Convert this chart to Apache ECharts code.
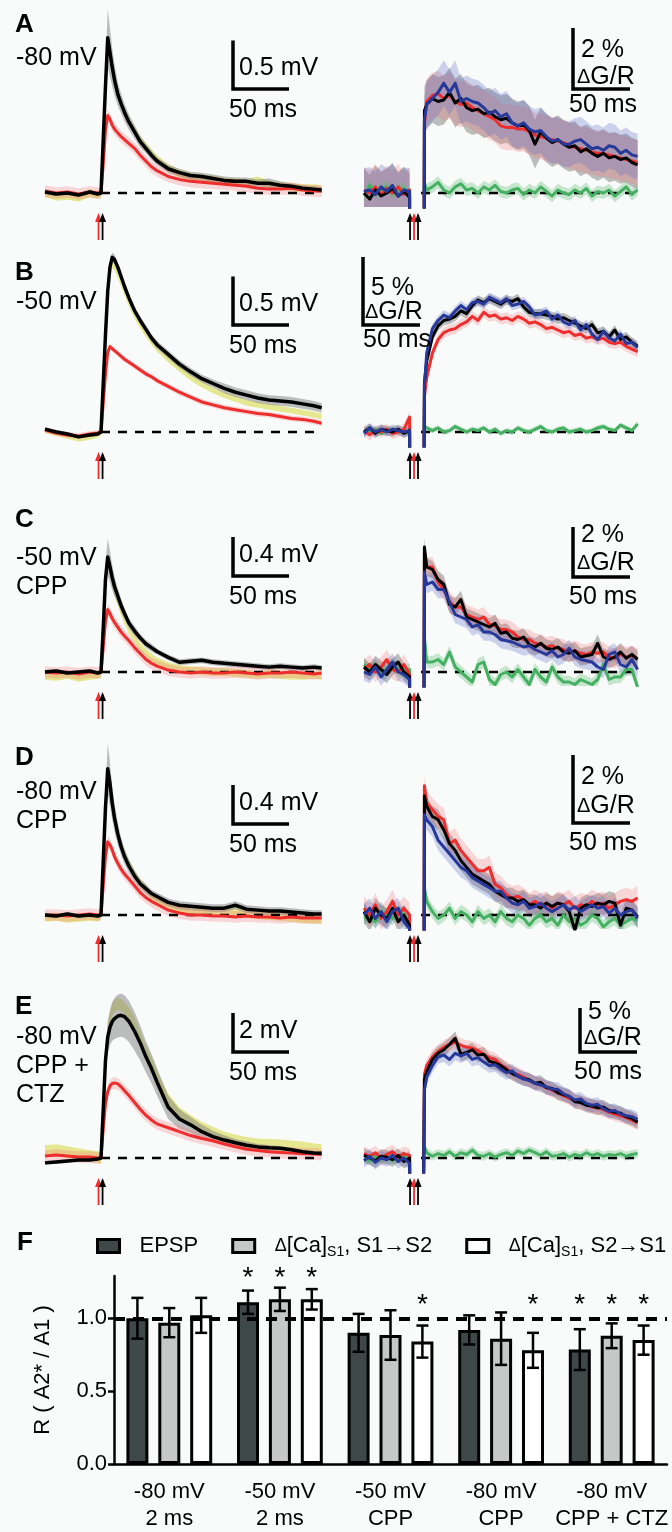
<!DOCTYPE html>
<html>
<head>
<meta charset="utf-8"/>
<title>EPSP and dendritic Ca transients</title>
<script src="https://cdn.jsdelivr.net/npm/echarts@6/dist/echarts.min.js"></script>
<style>html,body{margin:0;padding:0;background:#f9fbfb}#main{width:672px;height:1532px}</style>
</head>
<body>
<div id="main"></div>
<script>
var FONT = '"Liberation Sans", Arial, sans-serif';

// ---- time bases (ms from stimulus) ----
var tL = [-50,-40,-30,-20,-10,-3,0,2,4,6,8,10,12,15,18,21,25,30,35,40,45,50,60,70,80,90,100,110,120,130,140,150,160,170,180,190,197];
var tPre = [-50,-45,-40,-35,-30,-25,-20,-15,-10];
var tPost = [3,5,10,15,20,25,30,35,40,45,50,55,60,65,70,75,80,85,90,95,100,105,110,115,120,125,130,135,140,145,150,155,160,165,170,175,180,185,190];

// ---- EPSP traces (mV) ----
var epspBlackA = [0.01,-0.01,0.0,-0.02,0.01,-0.01,0.0, 0.55,1.1,1.6,1.45,1.3,1.17,1.02,0.92,0.83,0.73, 0.63,0.53,0.46,0.39,0.33,0.25,0.21,0.18,0.17,0.15, 0.13,0.12,0.12,0.1,0.1,0.08,0.07,0.05,0.04,0.03];
var epspRedA = [0.02,0.0,0.01,-0.01,0.01,0.0,0.0, 0.3,0.65,0.8,0.76,0.7,0.66,0.62,0.58,0.55,0.51, 0.46,0.39,0.33,0.27,0.23,0.17,0.14,0.12,0.11,0.1, 0.09,0.08,0.07,0.05,0.04,0.04,0.05,0.03,0.02,0.02];
var epspYellowA = [0.0,-0.04,-0.03,-0.05,0.0,-0.02,0.0, 0.5,1.0,1.5,1.42,1.28,1.15,1.02,0.92,0.84,0.74, 0.64,0.55,0.48,0.41,0.35,0.26,0.2,0.17,0.15,0.14, 0.12,0.11,0.1,0.13,0.09,0.07,0.06,0.05,0.05,0.04];
var semGrayA = [0.02,0.02,0.02,0.02,0.02,0.02,0.02, 0.08,0.18,0.3,0.25,0.2,0.16,0.12,0.1,0.09,0.08, 0.07,0.06,0.05,0.05,0.04,0.04,0.04,0.04,0.04,0.04, 0.04,0.04,0.04,0.04,0.05,0.04,0.03,0.03,0.03,0.03];

var epspBlackB = [0.03,0.0,-0.02,-0.05,-0.03,-0.02,0.0, 0.5,1.0,1.45,1.7,1.8,1.78,1.7,1.6,1.5,1.38, 1.25,1.15,1.06,0.97,0.9,0.8,0.7,0.62,0.55,0.5, 0.45,0.41,0.38,0.35,0.33,0.32,0.31,0.29,0.27,0.25];
var epspRedB = [0.02,-0.01,-0.03,-0.04,-0.02,-0.01,0.0, 0.3,0.6,0.82,0.88,0.86,0.84,0.81,0.78,0.75,0.72, 0.68,0.64,0.6,0.57,0.53,0.47,0.41,0.36,0.31,0.28, 0.25,0.23,0.21,0.19,0.18,0.16,0.14,0.13,0.11,0.09];
var epspYellowB = [0.02,-0.01,-0.04,-0.07,-0.05,-0.03,0.0, 0.48,0.97,1.4,1.64,1.72,1.7,1.62,1.53,1.44,1.32, 1.2,1.1,1.01,0.93,0.86,0.75,0.65,0.56,0.49,0.43, 0.38,0.34,0.3,0.28,0.26,0.24,0.22,0.2,0.18,0.16];
var semGrayB = [0.02,0.02,0.02,0.02,0.02,0.02,0.02, 0.03,0.04,0.05,0.05,0.05,0.05,0.04,0.04,0.04,0.04, 0.04,0.04,0.04,0.04,0.04,0.04,0.04,0.04,0.04,0.04, 0.05,0.05,0.05,0.05,0.05,0.05,0.05,0.05,0.05,0.05];

var epspBlackC = [0.0,0.01,-0.01,0.0,0.01,-0.01,0.0, 0.45,0.95,1.18,1.08,0.97,0.88,0.78,0.68,0.6,0.5, 0.42,0.35,0.29,0.25,0.21,0.15,0.1,0.11,0.12,0.1, 0.09,0.08,0.07,0.06,0.05,0.06,0.05,0.04,0.05,0.04];
var epspRedC = [0.0,-0.01,0.0,-0.02,0.0,-0.01,0.0, 0.25,0.52,0.64,0.6,0.55,0.51,0.46,0.41,0.37,0.32, 0.25,0.19,0.13,0.09,0.06,0.02,0.0,-0.01,0.0,-0.01, -0.01,0.0,-0.01,-0.02,-0.01,-0.01,0.0,-0.01,-0.02,-0.01];
var epspYellowC = [-0.04,-0.05,-0.03,-0.06,-0.04,-0.03,-0.02, 0.4,0.9,1.12,1.03,0.92,0.82,0.72,0.62,0.53,0.43, 0.34,0.26,0.2,0.15,0.11,0.06,0.03,0.02,0.01,0.0, 0.0,-0.01,-0.02,-0.03,-0.02,-0.03,-0.04,-0.04,-0.03,-0.04];
var semGrayC = [0.02,0.02,0.02,0.02,0.02,0.02,0.02, 0.08,0.15,0.19,0.16,0.13,0.1,0.08,0.07,0.06,0.05, 0.05,0.04,0.04,0.04,0.03,0.03,0.03,0.03,0.03,0.03, 0.03,0.03,0.03,0.03,0.03,0.03,0.03,0.03,0.03,0.03];

var epspBlackD = [0.0,-0.01,0.01,-0.01,0.0,-0.01,0.0, 0.55,1.1,1.5,1.35,1.15,1.0,0.83,0.7,0.6,0.5, 0.4,0.32,0.27,0.22,0.19,0.13,0.1,0.09,0.08,0.07, 0.07,0.1,0.06,0.05,0.04,0.04,0.03,0.02,0.01,0.01];
var epspRedD = [0.0,0.0,-0.01,0.0,0.01,0.0,0.0, 0.3,0.6,0.75,0.72,0.67,0.6,0.53,0.47,0.42,0.37, 0.3,0.23,0.18,0.14,0.11,0.05,0.02,0.0,0.0,-0.01, -0.01,-0.02,-0.01,-0.02,-0.02,-0.03,-0.02,-0.03,-0.03,-0.03];
var epspYellowD = [-0.03,-0.02,-0.04,-0.03,-0.02,-0.03,0.0, 0.5,1.05,1.45,1.33,1.15,1.0,0.85,0.72,0.62,0.52, 0.42,0.33,0.27,0.2,0.16,0.1,0.06,0.05,0.04,0.03, 0.02,0.03,0.01,0.0,-0.01,-0.02,-0.03,-0.04,-0.05,-0.05];
var semGrayD = [0.02,0.02,0.02,0.02,0.02,0.02,0.02, 0.08,0.17,0.26,0.22,0.17,0.14,0.11,0.09,0.08,0.07, 0.06,0.05,0.05,0.04,0.04,0.04,0.04,0.04,0.04,0.04, 0.04,0.04,0.04,0.04,0.04,0.04,0.04,0.04,0.04,0.04];

var epspBlackE = [-0.25,-0.2,-0.15,-0.1,-0.1,-0.05,0.0, 2.5,5.0,6.2,6.7,7.0,7.15,7.28,7.32,7.25,7.0, 6.5,5.9,5.2,4.6,3.9,2.6,2.0,1.7,1.35,1.1, 0.92,0.78,0.65,0.57,0.52,0.5,0.42,0.32,0.26,0.24];
var epspRedE = [0.1,0.15,0.1,0.05,0.05,0.0,0.0, 1.5,2.8,3.4,3.7,3.82,3.85,3.8,3.65,3.45,3.2, 2.85,2.5,2.2,1.95,1.75,1.55,1.35,1.15,1.0,0.88, 0.72,0.58,0.45,0.38,0.32,0.28,0.25,0.22,0.2,0.18];
var epspYellowE = [0.35,0.4,0.3,0.2,0.1,0.05,0.0, 2.6,5.3,6.6,7.2,7.6,7.8,7.9,7.85,7.7,7.4, 6.9,6.2,5.5,4.9,4.2,3.0,2.3,1.9,1.55,1.3, 1.05,0.9,0.78,0.7,0.68,0.65,0.6,0.55,0.45,0.4];
var semGrayE = [0.1,0.1,0.1,0.08,0.06,0.04,0.03, 0.3,0.6,0.8,0.9,1.0,1.05,1.1,1.1,1.1,1.05, 1.0,0.9,0.8,0.75,0.7,0.6,0.5,0.4,0.35,0.3, 0.25,0.2,0.2,0.15,0.15,0.12,0.12,0.1,0.1,0.1];

var semRedL = [0.06, 0.03, 0.06, 0.06, 0.3];
var semYellowL = [0.04, 0.03, 0.04, 0.04, 0.3];

// ---- Ca transients (% dG/R): pre-stimulus and post-stimulus ----
var caPreBlackA = [0.0,-0.2,0.1,-0.1,0.0,0.15,-0.1,0.05,-0.15];
var caPreRedA = [0.1,0.0,0.2,-0.05,0.15,0.0,0.2,-0.05,0.1];
var caPreBlueA = [0.05,0.1,-0.05,0.2,0.05,0.25,-0.1,0.1,0.05];
var caPreGreenA = [-0.1,0.25,0.0,0.1,0.2,0.0,0.1,0.15,-0.05];
var caBlackA = [2.7,2.9,3.1,3.0,3.05,3.3,2.95,3.1,2.8,2.7, 2.75,2.6,2.65,2.5,2.4,2.45,2.3,2.2,2.25,2.05, 1.6,2.0,1.8,1.65,1.75,1.6,1.5,1.55,1.35,1.45, 1.3,1.2,1.3,1.15,1.2,1.1,1.15,1.0,0.92];
var caRedA = [2.3,3.0,3.2,3.25,3.1,3.2,3.0,2.9,2.95,2.8, 2.7,2.6,2.5,2.4,2.2,2.15,2.15,2.1,2.1,2.0, 1.9,1.85,1.8,1.75,1.7,1.65,1.55,1.5,1.45,1.4, 1.35,1.3,1.3,1.25,1.2,1.15,1.1,1.05,1.0];
var caBlueA = [2.4,2.9,3.1,3.3,3.6,3.3,3.6,3.0,3.1,3.0, 2.95,2.8,2.6,2.7,2.5,2.6,2.3,2.2,2.3,2.1, 2.0,2.05,1.85,1.7,1.75,1.6,1.6,1.7,1.75,1.6, 1.45,1.5,1.4,1.55,1.5,1.3,1.4,1.25,1.2];
var caGreenA = [0.3,0.1,0.2,0.35,0.1,0.0,0.2,0.3,0.1,0.15, 0.0,0.2,0.1,0.25,0.05,0.0,0.1,0.15,-0.05,0.1, 0.0,0.2,0.05,-0.1,0.1,0.0,-0.05,0.1,0.0,0.15, -0.1,0.05,0.0,0.1,-0.1,0.05,0.2,-0.05,0.1];

var caPreBlackB = [0.0,0.3,-0.1,0.2,0.1,0.0,0.2,-0.1,0.1];
var caPreRedB = [0.1,-0.2,0.1,0.0,0.2,-0.1,0.0,0.2,1.1];
var caPreBlueB = [-0.1,0.3,0.0,0.2,0.0,0.2,0.1,0.0,0.1];
var caPreGreenB = [0.0,0.1,0.2,-0.1,0.1,0.2,0.0,0.1,-0.1];
var caBlackB = [3.6,5.2,7.0,7.8,8.2,8.3,8.5,8.9,8.7,9.3, 9.7,9.5,9.8,9.6,9.4,9.7,9.6,9.8,9.2,8.8, 8.7,8.7,8.6,8.5,8.3,8.4,8.2,8.0,7.8,7.6, 7.9,7.3,7.4,7.0,7.5,6.8,7.0,6.6,6.3];
var caRedB = [2.6,4.0,5.8,6.8,7.3,7.5,7.6,7.9,8.1,8.5, 8.2,8.8,8.5,8.6,8.3,8.4,8.2,8.5,8.3,8.0, 8.1,7.9,7.6,7.7,7.5,7.3,7.4,7.1,7.2,6.9, 7.0,6.8,6.9,6.6,6.5,6.6,6.3,6.1,5.9];
var caBlueB = [3.4,5.8,7.6,8.2,8.6,8.4,8.9,9.3,9.0,9.5, 9.6,9.4,9.9,9.7,9.5,9.8,9.3,9.4,9.6,9.2, 8.6,8.7,8.9,8.3,8.6,8.1,7.9,8.2,7.5,7.9, 7.2,6.8,7.4,6.9,6.7,7.2,6.5,6.6,6.2];
var caGreenB = [0.4,0.3,0.1,0.3,0.0,0.1,0.4,0.2,0.0,0.2, 0.1,0.3,0.0,0.2,-0.1,0.1,0.0,0.3,0.1,0.0, 0.2,0.4,0.1,0.0,0.2,0.3,0.0,0.1,0.2,0.0, 0.1,0.3,0.4,0.2,0.1,0.5,0.3,0.1,0.6];

var caPreBlackC = [0.2,0.0,0.3,0.1,-0.1,0.2,0.4,0.0,-0.2];
var caPreRedC = [0.1,0.3,0.0,0.2,0.5,0.1,0.0,0.3,-0.1];
var caPreBlueC = [0.0,-0.1,0.2,-0.2,0.1,0.4,0.0,-0.1,-0.3];
var caPreGreenC = [0.3,0.1,0.2,0.0,0.1,0.3,0.1,0.0,0.1];
var caBlackC = [5.0,4.2,4.1,3.7,3.5,2.7,2.6,2.9,2.2,2.1, 2.0,1.9,1.8,1.95,1.55,1.6,1.35,1.3,1.4,1.1, 1.0,1.15,0.95,0.9,1.0,0.8,0.75,0.85,0.6,0.65, 0.7,1.15,0.6,0.5,0.6,0.8,0.55,0.7,0.5];
var caRedC = [4.8,4.2,4.2,3.6,3.3,2.8,2.6,2.6,2.3,2.2, 2.1,2.2,1.9,1.85,1.7,1.7,1.6,1.4,1.3,1.3, 1.15,1.1,1.0,1.05,0.95,0.9,0.8,0.85,0.75,0.7, 0.8,0.75,0.8,0.6,0.55,0.7,0.6,0.65,0.55];
var caBlueC = [4.0,3.5,3.6,3.3,3.3,2.8,2.3,2.2,2.1,1.8, 1.9,1.6,1.6,1.5,1.3,1.25,1.2,1.1,1.0,1.05, 0.9,0.8,0.7,0.85,0.6,0.7,0.95,0.6,0.5,0.45, 0.4,0.2,0.1,0.7,0.8,0.3,0.2,0.5,0.1];
var caGreenC = [1.4,0.4,0.4,0.5,0.3,0.8,0.2,0.0,-0.2,-0.4, 0.3,0.4,-0.3,-0.5,-0.1,0.0,-0.2,0.1,-0.2,-0.5, 0.1,-0.2,-0.4,0.2,-0.2,-0.4,-0.4,-0.5,-0.3,-0.4, -0.5,-0.3,0.3,-0.3,-0.2,-0.2,0.1,0.1,-0.6];

var caPreBlackD = [0.1,-0.2,0.2,0.0,-0.1,0.2,-0.2,0.0,-0.3];
var caPreRedD = [0.2,0.0,0.3,-0.1,0.1,0.4,0.0,0.2,0.0];
var caPreBlueD = [0.0,0.2,-0.1,0.1,-0.2,0.1,0.2,-0.2,-0.4];
var caPreGreenD = [-0.1,0.0,-0.2,0.1,0.0,-0.1,0.1,0.0,-0.2];
var caBlackD = [3.5,3.2,2.9,2.8,2.5,2.1,1.9,1.6,1.4,1.2, 1.1,1.0,0.9,0.7,0.6,0.5,0.5,0.4,0.45,0.3, 0.3,0.2,0.35,0.25,0.35,0.3,0.1,-0.45,0.2,0.3, 0.25,0.35,0.3,0.4,0.35,-0.3,0.2,0.15,-0.05];
var caRedD = [3.8,3.3,3.1,2.9,2.8,2.1,2.2,1.9,1.7,1.5, 1.3,1.3,1.4,0.9,0.8,0.6,0.5,0.55,0.45,0.3, 0.4,0.3,0.35,0.2,0.35,0.3,0.4,0.2,0.3,0.25, 0.4,0.3,0.35,0.2,0.3,0.4,0.45,0.4,0.5];
var caBlueD = [2.95,2.8,2.6,2.2,2.0,1.8,1.6,1.4,1.3,1.1, 1.0,0.9,0.8,0.7,0.7,0.5,0.35,0.3,0.4,0.2, 0.25,0.35,0.2,0.1,0.2,0.3,0.15,0.25,0.1,0.2, 0.3,0.2,0.25,0.05,0.2,0.0,0.1,0.15,-0.1];
var caGreenD = [0.8,0.4,0.1,-0.1,0.0,0.2,-0.1,0.1,0.0,-0.2, 0.1,-0.1,0.0,-0.2,0.1,-0.1,-0.2,0.0,-0.1,-0.3, -0.1,0.0,-0.2,-0.1,-0.3,0.0,-0.2,-0.1,-0.3,-0.2, 0.0,-0.1,-0.35,-0.2,-0.1,-0.3,-0.2,-0.1,-0.15];

var caPreBlackE = [0.3,0.0,-0.3,0.2,0.1,-0.2,0.3,-0.4,0.0];
var caPreRedE = [0.5,0.2,0.6,0.0,0.4,0.7,0.1,0.5,0.3];
var caPreBlueE = [-0.3,0.2,-0.5,0.0,-0.2,0.3,-0.4,0.0,-0.6];
var caPreGreenE = [0.0,-0.3,0.2,-0.1,0.1,-0.2,0.0,0.2,-0.3];
var caBlackE = [8.9,9.8,11.2,11.9,12.3,12.9,13.6,11.8,12.0,12.3, 11.7,11.8,11.0,10.8,10.5,10.0,9.6,9.3,9.0,8.9, 8.5,8.6,8.0,7.9,7.4,7.2,7.0,6.4,6.3,6.0, 5.9,5.7,5.8,5.4,5.2,5.1,4.7,4.5,4.1];
var caRedE = [9.5,10.5,11.5,12.1,12.6,12.9,13.2,12.8,12.6,12.5, 12.2,11.8,11.4,11.2,10.6,10.2,9.7,9.5,9.2,8.8, 8.5,8.3,8.0,7.7,7.4,7.1,6.8,6.5,6.3,6.1, 5.8,5.7,5.5,5.2,5.0,4.8,4.6,4.3,4.0];
var caBlueE = [7.7,9.2,10.5,11.5,11.7,11.2,11.9,11.6,11.9,11.2, 11.4,10.9,10.5,10.6,10.1,9.7,9.9,9.3,9.0,8.8, 8.5,8.3,8.1,7.8,7.8,7.3,7.0,6.6,6.7,6.2, 6.0,6.1,5.6,5.3,5.4,5.0,4.8,4.7,4.4];
var caGreenE = [1.3,0.6,0.2,0.5,0.3,0.7,0.2,0.6,0.4,0.9, 0.3,0.2,0.5,0.1,0.4,0.6,0.3,0.8,0.5,0.9, 0.6,0.3,0.7,0.2,0.3,0.5,0.1,0.4,0.2,0.6, 0.3,0.5,0.2,0.4,0.3,0.5,0.2,0.4,0.5];

var semCaGray = [0.8, 0.35, 0.35, 0.3, 0.8];
var semCaRed = [0.75, 0.4, 0.4, 0.35, 0.8];
var semCaBlue = [0.75, 0.35, 0.35, 0.3, 0.8];
var semCaGreen = [0.2, 0.2, 0.25, 0.2, 0.5];
var ARTEFACT = -40;   // stimulation artefact, runs off the bottom of the panel

// stimulus arrows (ms)
var stimLeft = [-2.2, 1.4];
var stimRight = [-9.6, -6.1, -2.6];

// ---- panel F ----
var fGroups = ['-80 mV\n2 ms', '-50 mV\n2 ms', '-50 mV\nCPP', '-80 mV\nCPP', '-80 mV\nCPP + CTZ'];
var rEpsp = [1.0, 1.11, 0.9, 0.92, 0.785];
var semEpsp = [0.14, 0.08, 0.13, 0.1, 0.14];
var rS1S2 = [0.97, 1.13, 0.885, 0.86, 0.88];
var semS1S2 = [0.1, 0.08, 0.17, 0.18, 0.085];
var rS2S1 = [1.02, 1.13, 0.84, 0.78, 0.85];
var semS2S1 = [0.12, 0.07, 0.11, 0.12, 0.1];
var starEpsp = [null, 1.31, null, null, 1.12];
var starS1S2 = [null, 1.31, null, null, 1.12];
var starS2S1 = [null, 1.31, 1.12, 1.12, 1.12];

var C = {black:'#000', red:'#ef2d2d', blue:'#26399a', green:'#45b062',
  gray:'rgba(125,125,125,0.5)', pink:'rgba(242,120,120,0.28)', lblue:'rgba(95,108,200,0.3)',
  lgreen:'rgba(90,185,110,0.32)', yellow:'rgba(222,222,100,0.7)'};

var epspBlack = [epspBlackA, epspBlackB, epspBlackC, epspBlackD, epspBlackE];
var epspRed = [epspRedA, epspRedB, epspRedC, epspRedD, epspRedE];
var epspYellow = [epspYellowA, epspYellowB, epspYellowC, epspYellowD, epspYellowE];
var semGray = [semGrayA, semGrayB, semGrayC, semGrayD, semGrayE];
var caPre = [
  [caPreBlackA, caPreRedA, caPreBlueA, caPreGreenA],
  [caPreBlackB, caPreRedB, caPreBlueB, caPreGreenB],
  [caPreBlackC, caPreRedC, caPreBlueC, caPreGreenC],
  [caPreBlackD, caPreRedD, caPreBlueD, caPreGreenD],
  [caPreBlackE, caPreRedE, caPreBlueE, caPreGreenE]];
var caPost = [
  [caBlackA, caRedA, caBlueA, caGreenA],
  [caBlackB, caRedB, caBlueB, caGreenB],
  [caBlackC, caRedC, caBlueC, caGreenC],
  [caBlackD, caRedD, caBlueD, caGreenD],
  [caBlackE, caRedE, caBlueE, caGreenE]];

// layout of each row: baseline pixel, px per unit
var rowLayout = [
  {base:193, lppu:97, lmax:1.95, rppu:30.5, rmax:5},
  {base:432, lppu:97, lmax:2.0, rppu:13.6, rmax:11.5},
  {base:672, lppu:97.5, lmax:1.5, rppu:25, rmax:6},
  {base:915, lppu:97.5, lmax:1.85, rppu:34, rmax:4.6},
  {base:1158, lppu:19.5, lmax:9, rppu:8.8, rmax:15.5}
];

function band(g, t, mean, sem, color) {
  var pts = t.map(function (x, i) {
    var s = Array.isArray(sem) ? sem[i] : sem;
    return [x, mean[i] - s, mean[i] + s];
  });
  return {
    type: 'custom', xAxisIndex: g, yAxisIndex: g, clip: true, silent: true, z: 2,
    data: pts, encode: {x: 0, y: [1, 2]},
    renderItem: function (params, api) {
      if (params.dataIndex !== 0) return null;
      var up = [], lo = [];
      pts.forEach(function (p) {
        up.push(api.coord([p[0], p[2]]));
        lo.unshift(api.coord([p[0], p[1]]));
      });
      return {type: 'polygon', shape: {points: up.concat(lo)}, style: {fill: color}};
    }
  };
}

function trace(g, pts, color, w, clip) {
  return {type: 'line', xAxisIndex: g, yAxisIndex: g, data: pts, symbol: 'none', showSymbol: false,
    clip: clip, silent: true, z: 2, animation: false,
    lineStyle: {color: color, width: w, join: 'round'}};
}

function zip(t, v) { return t.map(function (x, i) { return [x, v[i]]; }); }

function caPoints(pre, post, rise) {
  var d = zip(tPre, pre);
  d.push([-8, ARTEFACT]);
  d.push([-4, '-']);
  if (rise) d.push([0, ARTEFACT]);
  return d.concat(zip(tPost, post));
}

var grids = [], xAxes = [], yAxes = [], series = [];

rowLayout.forEach(function (L, r) {
  var gl = 2 * r, gr = 2 * r + 1;
  var lmin = -0.3 * (r === 4 ? 4 : 1);
  grids.push({left: 45, width: 247 * 1.12, top: L.base - L.lmax * L.lppu, height: (L.lmax - lmin) * L.lppu});
  var rmin = -14 / L.rppu;
  grids.push({left: 364, width: 243 * 1.14, top: L.base - L.rmax * L.rppu, height: (L.rmax - rmin) * L.rppu});
  xAxes.push({gridIndex: gl, type: 'value', min: -50, max: 197, show: false});
  xAxes.push({gridIndex: gr, type: 'value', min: -50, max: 193, show: false});
  yAxes.push({gridIndex: gl, type: 'value', min: lmin, max: L.lmax, show: false});
  yAxes.push({gridIndex: gr, type: 'value', min: rmin, max: L.rmax, show: false});

  // left: EPSPs
  var dashL = trace(gl, [[0, 0], [197, 0]], '#000', 2.5, false);
  dashL.lineStyle.type = [9, 8];
  series.push(dashL);
  series.push(band(gl, tL, epspYellow[r], semYellowL[r], C.yellow));
  series.push(band(gl, tL, epspBlack[r], semGray[r], C.gray));
  series.push(band(gl, tL, epspRed[r], semRedL[r], C.pink));
  series.push(trace(gl, zip(tL, epspRed[r]), C.red, 3, false));
  series.push(trace(gl, zip(tL, epspBlack[r]), C.black, 3.5, false));

  // right: Ca transients
  var dashR = trace(gr, [[0, 0], [190, 0]], '#000', 2.5, true);
  dashR.lineStyle.type = [9, 8];
  series.push(dashR);
  var pre = caPre[r], post = caPost[r];
  var fills = [C.gray, C.pink, C.lblue];
  var sems = [semCaGray[r], semCaRed[r], semCaBlue[r]];
  for (var k = 0; k < 3; k++) {
    series.push(band(gr, tPre, pre[k], sems[k], fills[k]));
    series.push(band(gr, tPost, post[k], sems[k], fills[k]));
  }
  series.push(band(gr, tPre, pre[3], semCaGreen[r], C.lgreen));
  series.push(band(gr, tPost, post[3], semCaGreen[r], C.lgreen));
  series.push(trace(gr, caPoints(pre[3], post[3], false), C.green, 3, true));
  series.push(trace(gr, caPoints(pre[1], post[1], true), C.red, 3, true));
  series.push(trace(gr, caPoints(pre[0], post[0], true), C.black, 3, true));
  series.push(trace(gr, caPoints(pre[2], post[2], true), C.blue, 3, true));
});

// panel F
var FG = 10;
grids.push({left: 114, width: 553, top: 1276, height: 191});
xAxes.push({gridIndex: FG, type: 'category', data: fGroups,
  axisLine: {lineStyle: {color: '#000', width: 2.5}},
  axisTick: {length: 6, lineStyle: {color: '#000', width: 2.5}},
  axisLabel: {interval: 0, fontSize: 22, color: '#000', fontFamily: FONT, lineHeight: 27, margin: 14}});
yAxes.push({gridIndex: FG, type: 'value', min: 0, max: 1.29, interval: 0.5,
  axisLine: {show: true, lineStyle: {color: '#000', width: 2.5}},
  axisTick: {show: true, length: 6, lineStyle: {color: '#000', width: 2.5}},
  splitLine: {show: false},
  axisLabel: {fontSize: 22, color: '#000', fontFamily: FONT, margin: 7, showMaxLabel: false,
    formatter: function (v) { return v.toFixed(1); }},
  name: 'R ( A2* / A1 )', nameLocation: 'middle', nameGap: 60,
  nameTextStyle: {fontSize: 22, color: '#000', fontFamily: FONT}});

var barDefs = [
  {name: 'EPSP', vals: rEpsp, sem: semEpsp, star: starEpsp, color: '#3e4848'},
  {name: 'S1S2', vals: rS1S2, sem: semS1S2, star: starS1S2, color: '#c6c7c7'},
  {name: 'S2S1', vals: rS2S1, sem: semS2S1, star: starS2S1, color: '#ffffff'}
];
var errData = [], starData = [];
barDefs.forEach(function (b, j) {
  var s = {type: 'bar', name: b.name, xAxisIndex: FG, yAxisIndex: FG, data: b.vals,
    barWidth: 22, barGap: '45%', z: 2,
    itemStyle: {color: b.color, borderColor: '#000', borderWidth: 3}};
  if (j === 0) {
    s.markLine = {silent: true, symbol: 'none', label: {show: false}, z: 10,
      lineStyle: {color: '#000', width: 4, type: [11, 8]}, data: [{yAxis: 1}]};
  }
  series.push(s);
  b.vals.forEach(function (v, i) {
    errData.push([i, v, b.sem[i], j]);
    if (b.star[i] != null) starData.push([i, b.star[i], j]);
  });
});
var BAR_STEP = 22 * 1.45;
series.push({type: 'custom', xAxisIndex: FG, yAxisIndex: FG, data: errData, z: 5, silent: true,
  encode: {x: 0, y: 1},
  renderItem: function (params, api) {
    var i = api.value(0), m = api.value(1), s = api.value(2), j = api.value(3);
    var x = api.coord([i, m])[0] + (j - 1) * BAR_STEP;
    var top = api.coord([i, m + s])[1], bot = api.coord([i, m - s])[1];
    var st = {stroke: '#000', lineWidth: 2.5};
    return {type: 'group', children: [
      {type: 'line', shape: {x1: x, y1: top, x2: x, y2: bot}, style: st},
      {type: 'line', shape: {x1: x - 6, y1: top, x2: x + 6, y2: top}, style: st},
      {type: 'line', shape: {x1: x - 6, y1: bot, x2: x + 6, y2: bot}, style: st}
    ]};
  }});
series.push({type: 'custom', xAxisIndex: FG, yAxisIndex: FG, data: starData, z: 5, silent: true,
  encode: {x: 0, y: 1},
  renderItem: function (params, api) {
    var c = api.coord([api.value(0), api.value(1)]);
    return {type: 'text', x: c[0] + (api.value(2) - 1) * BAR_STEP, y: c[1] + 5,
      style: {text: '*', font: '28px ' + FONT, fill: '#000', align: 'center', verticalAlign: 'middle'}};
  }});

var chart = echarts.init(document.getElementById('main'), null, {renderer: 'canvas'});
chart.setOption({
  backgroundColor: '#f9fbfb',
  animation: false,
  grid: grids, xAxis: xAxes, yAxis: yAxes, series: series,
  legend: {top: 1230, left: 91, itemWidth: 22, itemHeight: 13, itemGap: 33, icon: 'rect',
    selectedMode: false, data: ['EPSP', 'S1S2', 'S2S1'],
    itemStyle: {borderColor: '#000', borderWidth: 3},
    textStyle: {fontSize: 22, color: '#000', fontFamily: FONT, padding: [0, 0, 0, 15],
      rich: {d: {fontSize: 18, color: '#000', fontFamily: FONT},
             s: {fontSize: 14, color: '#000', fontFamily: FONT, padding: [12, 0, 0, 0]}}},
    formatter: function (name) {
      if (name === 'EPSP') return 'EPSP';
      return '{d|\u0394}[Ca]{s|S1}, ' + (name === 'S1S2' ? 'S1\u2192S2' : 'S2\u2192S1');
    }}
});

// annotations: labels, scale bars and stimulus arrows
function text(x, y, s, size, bold) {
  return {type: 'text', x: x, y: y, z: 50, silent: true,
    style: {text: s, font: (bold ? 'bold ' : '') + size + 'px ' + FONT, fill: '#000', verticalAlign: 'middle',
      rich: {d: {fontSize: size - 5, fontFamily: FONT, fill: '#000'}}}};
}
function arrow(x, yTip, color) {
  return {type: 'group', silent: true, z: 50, children: [
    {type: 'line', shape: {x1: x, y1: yTip + 5, x2: x, y2: yTip + 27}, style: {stroke: color, lineWidth: 1.8}},
    {type: 'polygon', shape: {points: [[x - 3.5, yTip + 9], [x, yTip], [x + 3.5, yTip + 9]]}, style: {fill: color}}
  ]};
}
function scaleBar(g, px, py, dt, dv) {
  var o = chart.convertToPixel({gridIndex: g}, [0, 0]);
  var a = chart.convertToPixel({gridIndex: g}, [dt, dv]);
  var w = a[0] - o[0], h = o[1] - a[1];
  return {type: 'polyline', silent: true, z: 50,
    shape: {points: [[px, py - h], [px, py], [px + w, py]]},
    style: {stroke: '#000', lineWidth: 3.5, fill: null, lineJoin: 'miter'}};
}

var panelText = [
  {id: 'A', lines: ['-80 mV'], ly: 25, sy: 58},
  {id: 'B', lines: ['-50 mV'], ly: 273, sy: 302},
  {id: 'C', lines: ['-50 mV', 'CPP'], ly: 520, sy: 558},
  {id: 'D', lines: ['-80 mV', 'CPP'], ly: 758, sy: 792},
  {id: 'E', lines: ['-80 mV', 'CPP +', 'CTZ'], ly: 1007, sy: 1037}
];
var scaleL = [
  {x: 233, y: 89, dv: 0.5, lab: '0.5 mV'},
  {x: 233, y: 325, dv: 0.5, lab: '0.5 mV'},
  {x: 233, y: 576, dv: 0.4, lab: '0.4 mV'},
  {x: 233, y: 824, dv: 0.4, lab: '0.4 mV'},
  {x: 233, y: 1052, dv: 2, lab: '2 mV'}
];
var scaleR = [
  {x: 573, y: 89, dv: 2, lab: '2 %', ty: [50, 77, 105], tx: [581, 577, 569]},
  {x: 363, y: 325, dv: 5, lab: '5 %', ty: [288, 312, 340], tx: [371, 365, 363]},
  {x: 573, y: 577, dv: 2, lab: '2 %', ty: [535, 563, 597], tx: [581, 577, 569]},
  {x: 573, y: 823, dv: 2, lab: '2 %', ty: [777, 806, 843], tx: [581, 577, 569]},
  {x: 580, y: 1052, dv: 5, lab: '5 %', ty: [1012, 1038, 1072], tx: [588, 584, 574]}
];

var gfx = [];
rowLayout.forEach(function (L, r) {
  var gl = 2 * r, gr = 2 * r + 1;
  var P = panelText[r];
  gfx.push(text(15, P.ly, P.id, 26, true));
  P.lines.forEach(function (s, k) { gfx.push(text(16, P.sy + k * 29, s, 25, false)); });
  var sl = scaleL[r];
  gfx.push(scaleBar(gl, sl.x, sl.y, 50, sl.dv));
  gfx.push(text(sl.x + 6, sl.y - 21, sl.lab, 25, false));
  gfx.push(text(sl.x - 4, sl.y + 21, '50 ms', 25, false));
  var sr = scaleR[r];
  gfx.push(scaleBar(gr, sr.x, sr.y, 50, sr.dv));
  gfx.push(text(sr.tx[0], sr.ty[0], sr.lab, 25, false));
  gfx.push(text(sr.tx[1], sr.ty[1], '{d|\u0394}G/R', 25, false));
  gfx.push(text(sr.tx[2], sr.ty[2], '50 ms', 25, false));
  var tip = L.base + 20;
  var lc = [C.red, C.black];
  stimLeft.forEach(function (t, k) {
    gfx.push(arrow(chart.convertToPixel({gridIndex: gl}, [t, 0])[0], tip, lc[k]));
  });
  var rc = [C.black, C.red, C.black];
  stimRight.forEach(function (t, k) {
    gfx.push(arrow(chart.convertToPixel({gridIndex: gr}, [t, 0])[0], tip, rc[k]));
  });
});
gfx.push(text(17, 1243, 'F', 26, true));
chart.setOption({graphic: gfx});
</script>
</body>
</html>
